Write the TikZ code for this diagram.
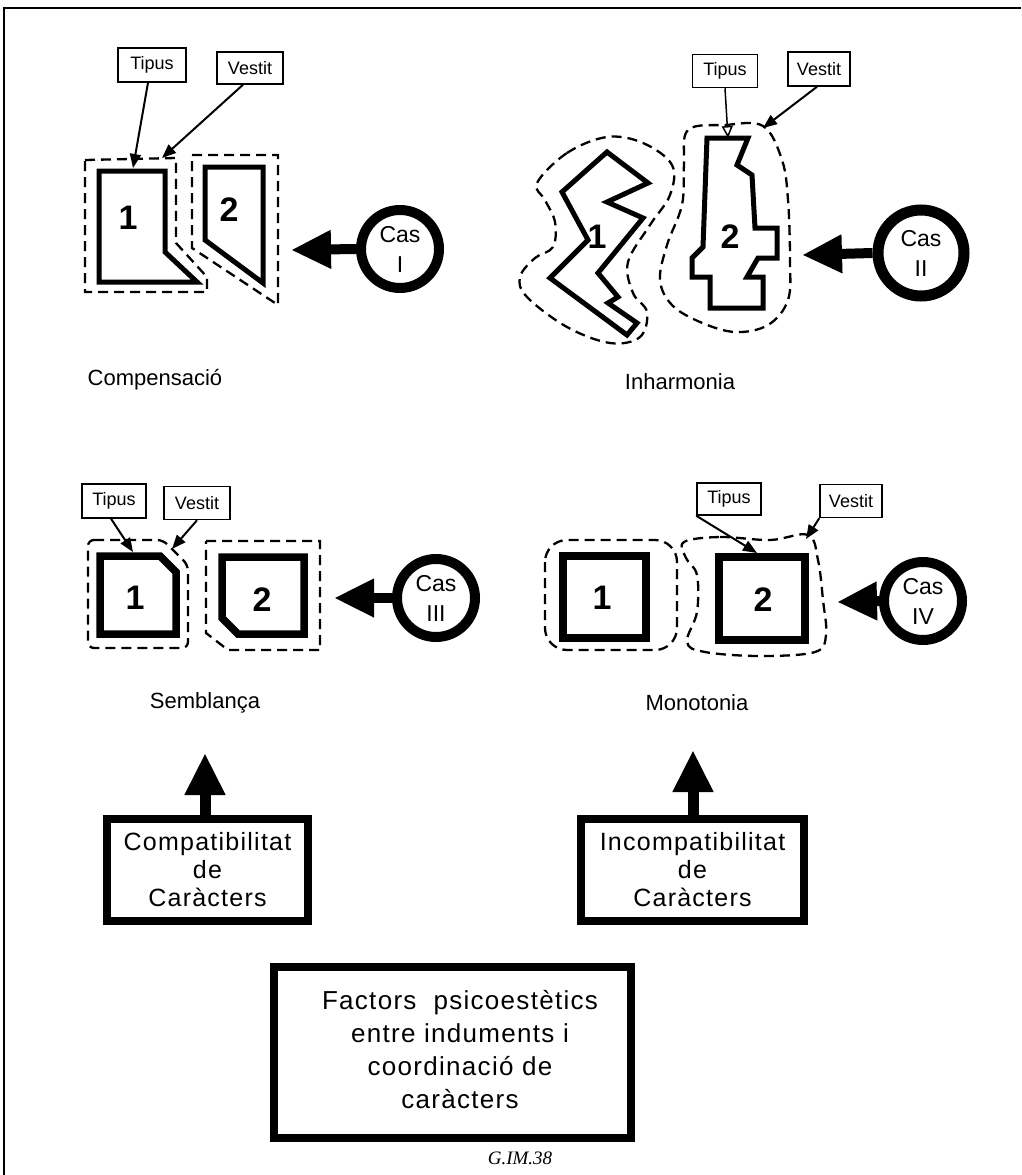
\documentclass[tikz,border=0pt]{standalone}
\usepackage{fontspec}
\setmainfont{Liberation Sans}
\newfontfamily\spacedfont{Liberation Sans}[LetterSpace=5]
\newfontfamily\gimfont{Liberation Serif}
\usetikzlibrary{arrows.meta,calc}
\begin{document}
\begin{tikzpicture}[x=1pt,y=-1pt,
  tag/.style={draw, line width=1.5pt, minimum width=64pt, minimum height=33pt, inner sep=0pt, font=\fontsize{18}{20}\selectfont},
  tagarrow/.style={line width=2pt, -{Triangle[length=14pt,width=11pt]}},
  tagarrowopen/.style={line width=1.5pt, -{Triangle[open,length=12pt,width=11pt]}},
  solidshape/.style={line width=5pt, line join=miter},
  thickshape/.style={line width=7.5pt, line join=miter},
  dashedshape/.style={line width=2.3pt, dash pattern=on 10pt off 6pt},
  casnode/.style={circle, draw, line width=10pt, minimum size=78pt, inner sep=0pt, align=center, font=\fontsize{23}{30}\selectfont},
  bigarrow/.style={line width=10pt, -{Triangle[length=40pt,width=36pt]}},
  num/.style={font=\fontsize{34}{34}\bfseries\selectfont},
  caption/.style={font=\fontsize{22}{24}\selectfont},
  catbox/.style={draw, line width=8pt, inner sep=0pt, align=center, font=\spacedfont\fontsize{25}{28}\selectfont}
]
\useasboundingbox (0,0) rectangle (1021,1175);
% frame
\draw[line width=2pt] (4,1175) -- (4,8) -- (1021,8);

% ================= Panel I : Compensacio
\node[tag, minimum width=68pt, minimum height=34pt] (t1) at (152,65) {Tipus};
\node[tag, minimum width=66pt, minimum height=32pt] (v1) at (250,68) {Vestit};
\coordinate (t1tip) at (133,168);
\coordinate (v1tip) at (162,158);
\draw[tagarrow] ([xshift=-4pt]t1.south) -- (t1tip);
\draw[tagarrow] ([xshift=-7pt]v1.south) -- (v1tip);
\draw[dashedshape] (85,160) -- (176,158) -- (176,243) -- (207,277) -- (207,292) -- (85,292) -- cycle;
\draw[solidshape] (99,171) -- (165,171) -- (165,252) -- (197,282) -- (99,282) -- cycle;
\node[num] (n1a) at (128,218) {1};
\draw[dashedshape] (192,155) -- (278,155) -- (278,305) -- (192,248) -- cycle;
\draw[solidshape] (205,167) -- (263,167) -- (263,283) -- (205,240) -- cycle;
\node[num] (n2a) at (229,210) {2};
\node[casnode] (casI) at (400,249) {Cas\\I};
\coordinate (tipI) at (291,250);
\draw[bigarrow] (casI.west) -- (tipI);
\node[caption] (capI) at (155,380) {Compensació};

% ================= Panel II : Inharmonia
\node[tag, minimum width=65pt, minimum height=33pt] (t2) at (725,71) {Tipus};
\node[tag, minimum width=62pt, minimum height=34pt] (v2) at (819,69) {Vestit};
\coordinate (t2tip) at (728,138);
\coordinate (v2tip) at (763,128);
\draw[tagarrowopen] (t2.south) -- (t2tip);
\draw[tagarrow] ([xshift=-2pt]v2.south) -- (v2tip);
\draw[dashedshape] plot[smooth cycle, tension=0.6] coordinates {
 (537,183) (567,153) (607,137) (643,143) (672,165) (670,195) (650,225) (628,262)
 (633,293) (647,312) (640,337) (610,343) (567,327) (527,297) (520,277) (535,258)
 (553,247) (555,222) (545,200)};
\draw[solidshape] (607,152) -- (648,183) -- (607,202) -- (643,218) -- (598,273) -- (618,297)
 -- (608,303) -- (637,323) -- (627,335) -- (550,278) -- (588,240) -- (562,192) -- cycle;
\node[num] (n1b) at (597,237) {1};
\draw[dashedshape] plot[smooth cycle, tension=0.6] coordinates {
 (688,130) (725,125) (763,126) (782,160) (788,200) (790,260) (788,300) (768,325)
 (735,332) (700,322) (672,305) (660,280) (667,245) (682,205) (684,165)};
\draw[solidshape] (707,138) -- (748,138) -- (737,165) -- (752,175) -- (755,228) -- (777,228)
 -- (777,258) -- (758,258) -- (747,277) -- (763,277) -- (763,308) -- (710,308) -- (710,277)
 -- (692,277) -- (692,258) -- (703,247) -- cycle;
\node[num] (n2b) at (730,237) {2};
\node[casnode, minimum size=86pt, line width=11pt] (casII) at (921,253) {Cas\\II};
\coordinate (tipII) at (802,255);
\draw[bigarrow] (casII.west) -- (tipII);
\node[caption] (capII) at (680,382) {Inharmonia};

% ================= Panel III : Semblanca
\node[tag, minimum width=64pt, minimum height=34pt] (t3) at (114,501) {Tipus};
\node[tag, minimum width=66pt, minimum height=33pt] (v3) at (197,503) {Vestit};
\coordinate (t3tip) at (133,552);
\coordinate (v3tip) at (172,549);
\draw[tagarrow] ([xshift=-3pt]t3.south) -- (t3tip);
\draw[tagarrow] (v3.south) -- (v3tip);
\draw[dashedshape, rounded corners=6pt] (88,540) -- (163,540) -- (188,565) -- (188,648) -- (88,648) -- cycle;
\draw[thickshape] (100,556) -- (160,556) -- (176,572) -- (176,634) -- (100,634) -- cycle;
\node[num] (n1c) at (135,598) {1};
\draw[dashedshape] (206,541) -- (320,541) -- (320,650) -- (228,650) -- (206,633) -- cycle;
\draw[thickshape] (222,557) -- (304,557) -- (304,634) -- (238,634) -- (222,618) -- cycle;
\node[num] (n2c) at (262,600) {2};
\node[casnode] (casIII) at (436,598) {Cas\\III};
\coordinate (tipIII) at (334,598);
\draw[bigarrow] (casIII.west) -- (tipIII);
\node[caption] (capIII) at (205,703) {Semblança};

% ================= Panel IV : Monotonia
\node[tag, minimum width=64pt, minimum height=32pt] (t4) at (729,499) {Tipus};
\node[tag, minimum width=62pt, minimum height=33pt] (v4) at (851,501) {Vestit};
\coordinate (t4tip) at (757,553);
\coordinate (v4tip) at (806,539);
\draw[tagarrow] (t4.south west) -- (t4tip);
\draw[tagarrow] (v4.south west) -- (v4tip);
\draw[dashedshape, rounded corners=22pt] (545,540) rectangle (677,650);
\draw[thickshape] (563,556) rectangle (646,638);
\node[num] (n1d) at (602,598) {1};
\draw[dashedshape] plot[smooth cycle, tension=0.6] coordinates {
 (684,542) (720,537) (770,540) (808,535) (818,560) (823,600) (826,635) (815,652)
 (760,656) (705,652) (687,642) (697,612) (697,575) (686,558)};
\draw[thickshape] (719,557) rectangle (805,640);
\node[num] (n2d) at (763,600) {2};
\node[casnode] (casIV) at (923,601) {Cas\\IV};
\coordinate (tipIV) at (837,602);
\draw[bigarrow] (casIV.west) -- (tipIV);
\node[caption] (capIV) at (697,703) {Monotonia};

% ================= bottom
\node[catbox, minimum width=201pt, minimum height=102pt] (comp) at (207.5,870) {Compatibilitat\\de\\Caràcters};
\node[catbox, minimum width=223pt, minimum height=102pt] (incomp) at (692.5,870) {Incompatibilitat\\de\\Caràcters};
\coordinate (upL) at (205,753);
\coordinate (upR) at (693,750);
\draw[line width=11pt, -{Triangle[length=42pt,width=38pt]}] (comp.north -| upL) -- (upL);
\draw[line width=11pt, -{Triangle[length=42pt,width=38pt]}] (incomp.north -| upR) -- (upR);

\node[draw, line width=8pt, minimum width=357pt, minimum height=171pt, inner sep=0pt] (factors) at (452.5,1052.5) {};
\node[align=center, font=\spacedfont\fontsize{26}{33}\selectfont] (ftext) at (460,1050) {Factors\ \ psicoestètics\\ entre induments i\\coordinació de\\caràcters};
\node[font=\gimfont\itshape\fontsize{19}{20}\selectfont] (gim) at (520,1158) {G.IM.38};
\end{tikzpicture}
\end{document}
